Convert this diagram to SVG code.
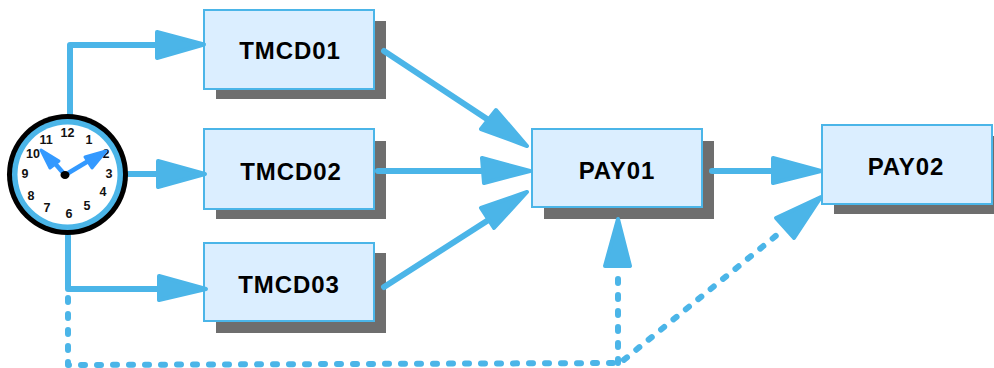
<svg xmlns="http://www.w3.org/2000/svg" width="994" height="368" viewBox="0 0 994 368">
<style>
.box{fill:#dbeeff;stroke:#4bb5e8;stroke-width:2}
.sh{fill:#6e6e6e}
.lbl{font-family:"Liberation Sans",Arial,sans-serif;font-weight:700;font-size:24px;fill:#000;text-anchor:middle;letter-spacing:.9px}
.ln{fill:none;stroke:#4bb5e8;stroke-width:6;stroke-linecap:round;stroke-linejoin:round}
.dash{stroke-dasharray:4 12}
.hd{fill:#4bb5e8;stroke:#4bb5e8;stroke-width:4;stroke-linejoin:round}
.num{font-family:"Liberation Sans",Arial,sans-serif;font-weight:700;font-size:12.5px;fill:#111;text-anchor:middle}
.hand{fill:none;stroke:#3399ff;stroke-width:4.500}
.tip{fill:#3399ff;stroke:#3399ff;stroke-width:3;stroke-linejoin:round}
</style>
<g id="TMCD01"><rect class="sh" x="216" y="21" width="170" height="78"/><rect class="box" x="204" y="10" width="170" height="79"/><text class="lbl" x="290" y="59">TMCD01</text></g>
<g id="TMCD02"><rect class="sh" x="216" y="141" width="170" height="78"/><rect class="box" x="204" y="129" width="170" height="80"/><text class="lbl" x="291" y="180">TMCD02</text></g>
<g id="TMCD03"><rect class="sh" x="216" y="253" width="170" height="80"/><rect class="box" x="204" y="243" width="170" height="78"/><text class="lbl" x="289" y="293">TMCD03</text></g>
<g id="PAY01"><rect class="sh" x="544" y="141" width="170" height="78"/><rect class="box" x="532" y="129" width="170" height="78"/><text class="lbl" x="617" y="179">PAY01</text></g>
<g id="PAY02"><rect class="sh" x="834" y="136" width="160" height="78"/><rect class="box" x="822" y="125" width="170" height="79"/><text class="lbl" x="906" y="175">PAY02</text></g>
<g id="connectors">
<path class="ln" d="M70 116V45H160"/>
<polygon class="hd" points="157,32 204,44.500 157,58"/>
<path class="ln" d="M128 174H158"/>
<polygon class="hd" points="158,161 205,174 158,187"/>
<path class="ln" d="M68 236V289H160"/>
<polygon class="hd" points="159,276 206,289 159,300"/>
<path class="ln" d="M384 51L490 121"/>
<polygon class="hd" points="496,110 527,146 481,129"/>
<path class="ln" d="M378 171H485"/>
<polygon class="hd" points="482,158 530,171 484,183"/>
<path class="ln" d="M384 287L490 219"/>
<polygon class="hd" points="481,208 527,192 494,228"/>
<path class="ln" d="M712 171H775"/>
<polygon class="hd" points="773,158 821,171 773,183"/>
<polygon class="hd" points="618,219 630,266 605,266"/>
<polygon class="hd" points="776,218 821,197 794,238"/>
<path class="ln dash" d="M68 298V365L620 363L783 230"/>
<path class="ln dash" d="M618 363V272"/>
</g>
<g id="clock">
<circle cx="67.500" cy="174.500" r="60.500" fill="#000"/>
<circle cx="67.500" cy="174.500" r="55.500" fill="#4bb5e8"/>
<circle cx="67.500" cy="174.500" r="50" fill="#fff"/>
<text class="num" x="67.500" y="137">12</text><text class="num" x="89" y="143.500">1</text><text class="num" x="106" y="157.500">2</text>
<text class="num" x="109" y="177.500">3</text><text class="num" x="103" y="195.500">4</text><text class="num" x="87" y="209.500">5</text>
<text class="num" x="69" y="217.500">6</text><text class="num" x="47" y="211.500">7</text><text class="num" x="31" y="199.500">8</text>
<text class="num" x="25" y="177.500">9</text><text class="num" x="33" y="157.500">10</text><text class="num" x="46" y="143.500">11</text>
<path class="hand" d="M65 175L52 160"/>
<path class="hand" d="M65 175L90 160"/>
<polygon class="tip" points="41,150 59,161 50,168"/>
<polygon class="tip" points="106,151 85,157 92,168"/>
<ellipse cx="65" cy="175" rx="4.500" ry="4" fill="#000"/>
</g>
</svg>
